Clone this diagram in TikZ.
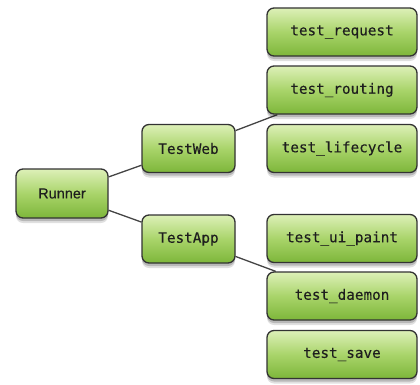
\documentclass[tikz,border=0pt]{standalone}
\usepackage{fontspec}
\setmainfont{Liberation Sans}
\newfontfamily\monofam[FakeBold=0.25]{DejaVu Sans Mono}
\newfontfamily\rootfam[FakeBold=0.3]{Liberation Sans}
\usetikzlibrary{shadows,backgrounds}
\definecolor{gtop}{HTML}{DDF0B8}
\definecolor{gmid}{HTML}{A9D46A}
\definecolor{gbot}{HTML}{7DB63A}
\definecolor{edgec}{HTML}{333333}
\definecolor{linkc}{HTML}{444444}
\definecolor{txtc}{HTML}{1E1E1E}
\begin{document}
\begin{tikzpicture}[x=1pt,y=1pt,
  box/.style={draw=edgec, line width=1.3pt, rounded corners=7pt,
    top color=gtop, bottom color=gbot, middle color=gmid,
    minimum height=48pt, inner sep=0pt, text=txtc,
    general shadow={fill=black, opacity=0.18, shadow yshift=-3pt, shadow scale=1.0},
    general shadow={fill=black, opacity=0.12, shadow yshift=-5pt, shadow xshift=0pt}},
  mid/.style={box, minimum width=93pt, font=\monofam\fontsize{14.3}{16}\selectfont},
  leaf/.style={box, minimum width=150pt, font=\monofam\fontsize{14.3}{16}\selectfont},
  root/.style={box, minimum width=92pt, minimum height=49pt, font=\rootfam\fontsize{14.5}{16}\selectfont},
  link/.style={draw=linkc, line width=1.3pt}]
\useasboundingbox (0,0) rectangle (420,384);
\node[root] (runner) at (62,190.5) {Runner};
\node[mid] (web) at (188.5,235.5) {TestWeb};
\node[mid] (app) at (188.5,145) {TestApp};
\node[leaf] (req) at (342,352) {test\_request};
\node[leaf] (rout) at (342,294) {test\_routing};
\node[leaf] (life) at (342,235.5) {test\_lifecycle};
\node[leaf] (ui) at (342,145.5) {test\_ui\_paint};
\node[leaf] (daem) at (342,88) {test\_daemon};
\node[leaf] (save) at (342,29.5) {test\_save};
\begin{scope}[on background layer]
\draw[link] (runner) -- (web);
\draw[link] (runner) -- (app);
\draw[link] (web) -- (rout);
\draw[link] (app) -- (daem);
\end{scope}
\end{tikzpicture}
\end{document}
